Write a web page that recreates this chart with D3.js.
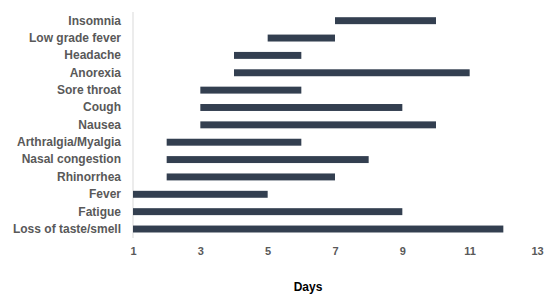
<!DOCTYPE html>
<html>
<head>
<meta charset="utf-8">
<script src="https://cdn.jsdelivr.net/npm/d3@7"></script>
<style>
  body { margin: 0; background: #fff; }
  text { font-family: "Liberation Sans", Arial, sans-serif; }
</style>
</head>
<body>
<div id="chart"></div>
<script>
// symptoms, top to bottom
var symptoms = ["Insomnia", "Low grade fever", "Headache", "Anorexia", "Sore throat", "Cough", "Nausea",
  "Arthralgia/Myalgia", "Nasal congestion", "Rhinorrhea", "Fever", "Fatigue", "Loss of taste/smell"];
var startDay = [7, 5, 4, 4, 3, 3, 3, 2, 2, 2, 1, 1, 1];
var endDay = [10, 7, 6, 11, 6, 9, 10, 6, 8, 7, 5, 9, 12];
var dayTicks = [1, 3, 5, 7, 9, 11, 13];

var width = 550, height = 298;
var svg = d3.select("#chart").append("svg")
  .attr("width", width)
  .attr("height", height);

var x = d3.scaleLinear().domain([1, 13]).range([133, 537]);
var y = d3.scaleBand().domain(symptoms).range([12, 237.7]).paddingInner(0.6).paddingOuter(0.3);

var rows = symptoms.map(function(s, i) {
  return { name: s, start: startDay[i], end: endDay[i] };
});

// vertical axis line
svg.append("line")
  .attr("x1", x(1)).attr("x2", x(1))
  .attr("y1", 12).attr("y2", 238)
  .attr("stroke", "#d9d9d9")
  .attr("stroke-width", 1);

svg.selectAll("rect.bar")
  .data(rows)
  .enter().append("rect")
  .attr("class", "bar")
  .attr("x", function(d) { return x(d.start); })
  .attr("y", function(d) { return y(d.name); })
  .attr("width", function(d) { return x(d.end) - x(d.start); })
  .attr("height", y.bandwidth())
  .attr("fill", "#333f50");

// category labels
var yAxis = d3.axisLeft(y).tickSize(0).tickPadding(12);
var gy = svg.append("g").attr("transform", "translate(" + x(1) + ",0)").call(yAxis);
gy.select(".domain").remove();
gy.selectAll("text")
  .attr("fill", "#595959")
  .style("font-size", "12px")
  .style("font-weight", "bold");

// x tick labels
var xAxis = d3.axisBottom(x).tickValues(dayTicks).tickSize(0).tickPadding(0);
var gx = svg.append("g").attr("transform", "translate(0,247)").call(xAxis);
gx.select(".domain").remove();
gx.selectAll("text")
  .attr("fill", "#595959")
  .style("font-size", "11px")
  .style("font-weight", "bold");

svg.append("text")
  .attr("x", 308)
  .attr("y", 291)
  .attr("text-anchor", "middle")
  .attr("fill", "#000")
  .style("font-size", "12px")
  .style("font-weight", "bold")
  .text("Days");
</script>
</body>
</html>
